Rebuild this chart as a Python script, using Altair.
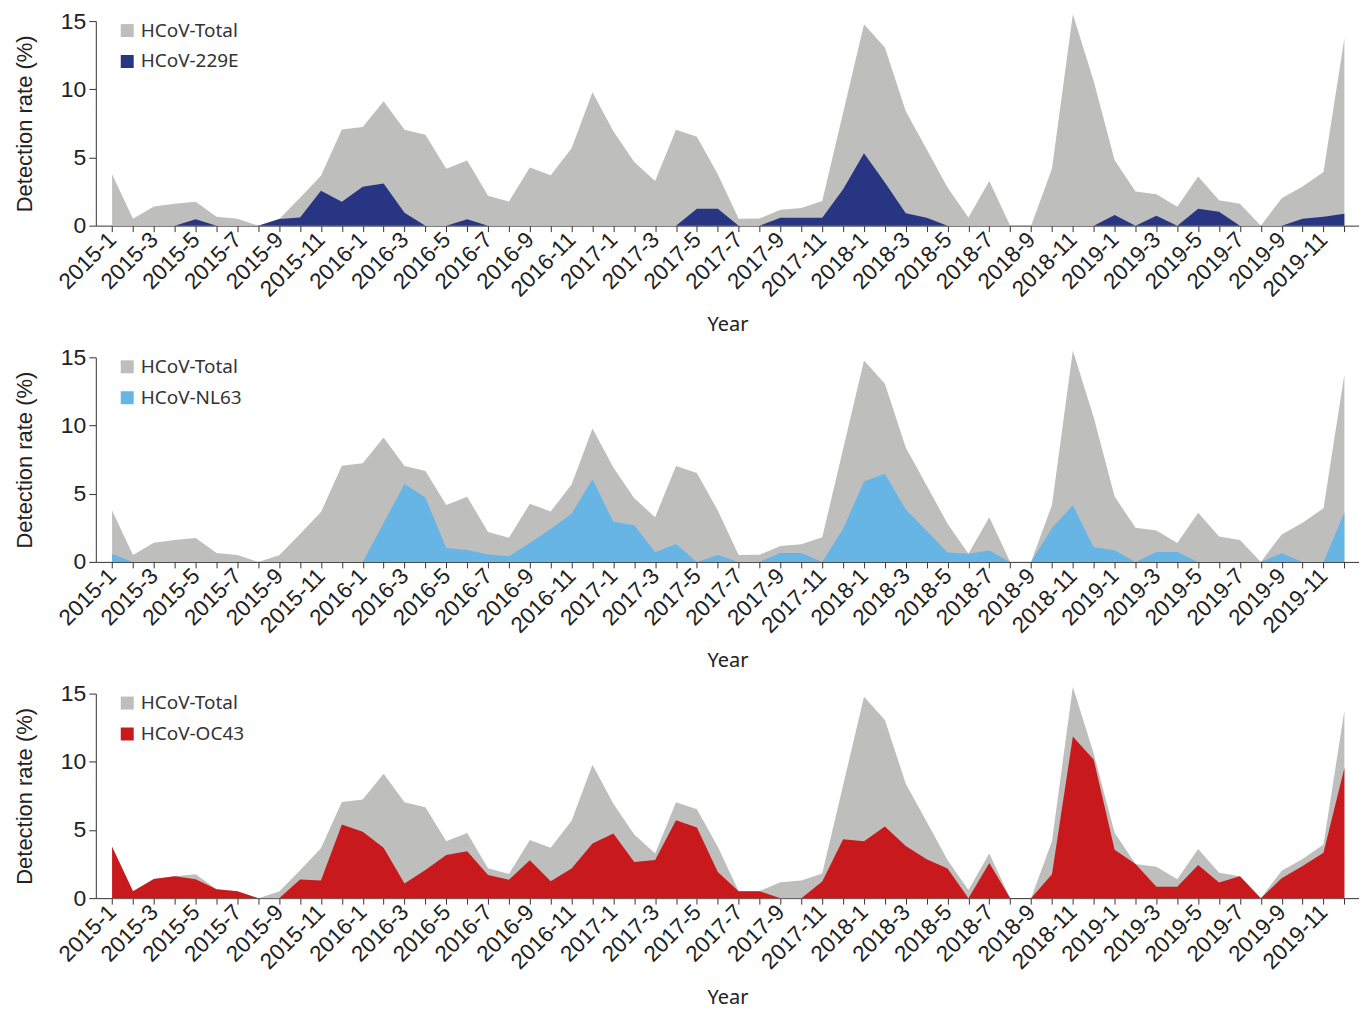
import altair as alt
import pandas as pd

# Month labels 2015-1 ... 2019-12
months = [f"{y}-{m}" for y in range(2015, 2020) for m in range(1, 13)]

total = [3.77, 0.50, 1.40, 1.60, 1.75, 0.66, 0.50, 0.00, 0.48, 2.04,
         3.65, 7.05, 7.23, 9.12, 7.03, 6.66, 4.18, 4.77, 2.19, 1.77,
         4.26, 3.70, 5.67, 9.78, 6.93, 4.67, 3.28, 7.03, 6.52, 3.77,
         0.50, 0.53, 1.17, 1.30, 1.80, 8.27, 14.77, 13.06, 8.39, 5.60,
         2.80, 0.60, 3.28, 0.00, 0.00, 4.18, 15.50, 10.58, 4.79, 2.50,
         2.30, 1.39, 3.60, 1.87, 1.60, 0.00, 2.01, 2.87, 3.94, 13.74]

hcov_229e = [0, 0, 0, 0, 0.46, 0, 0, 0, 0.48, 0.60,
             2.55, 1.75, 2.85, 3.09, 0.95, 0, 0, 0.46, 0, 0,
             0, 0, 0, 0, 0, 0, 0, 0, 1.24, 1.24,
             0, 0, 0.58, 0.58, 0.58, 2.67, 5.30, 3.16, 0.90, 0.58,
             0, 0, 0, 0, 0, 0, 0, 0, 0.78, 0,
             0.73, 0, 1.24, 1.02, 0, 0, 0, 0.51, 0.66, 0.88]

hcov_nl63 = [0.58, 0, 0, 0, 0, 0, 0, 0, 0, 0,
             0, 0, 0, 2.85, 5.72, 4.72, 1.02, 0.88, 0.54, 0.41,
             1.39, 2.41, 3.53, 6.06, 2.94, 2.68, 0.71, 1.31, 0, 0.51,
             0, 0, 0.66, 0.66, 0, 2.43, 5.89, 6.47, 3.85, 2.29,
             0.68, 0.60, 0.83, 0, 0, 2.48, 4.14, 1.07, 0.85, 0,
             0.73, 0.73, 0, 0, 0, 0, 0.63, 0, 0, 3.63]

hcov_oc43 = [3.77, 0.50, 1.40, 1.60, 1.39, 0.66, 0.50, 0, 0, 1.36,
             1.29, 5.40, 4.87, 3.70, 1.07, 2.07, 3.16, 3.43, 1.70, 1.34,
             2.77, 1.24, 2.17, 4.01, 4.74, 2.65, 2.80, 5.72, 5.18, 1.92,
             0.50, 0.51, 0, 0, 1.22, 4.31, 4.18, 5.26, 3.82, 2.85,
             2.17, 0, 2.58, 0, 0, 1.75, 11.85, 10.15, 3.55, 2.50,
             0.83, 0.83, 2.43, 1.14, 1.60, 0, 1.46, 2.36, 3.33, 9.54]

GRAY = "#BEBEBD"
AXIS_FONT = "Liberation Sans"
LEG_FONT = "Noto Sans"

label_expr = ("datum.value % 2 == 0 ? (2015 + floor(datum.value / 12)) + '-' + "
              "(datum.value % 12 + 1) : ''")


def panel(name, values, color):
    idx = list(range(len(months)))
    df_t = pd.DataFrame({"idx": idx, "month": months, "value": total, "series": "HCoV-Total"})
    df_s = pd.DataFrame({"idx": idx, "month": months, "value": values, "series": name})
    color_enc = alt.Color(
        "series:N",
        scale=alt.Scale(domain=["HCoV-Total", name], range=[GRAY, color]),
        legend=alt.Legend(
            title=None, orient="none", legendX=22, legendY=0,
            symbolType="square", symbolSize=169, symbolStrokeWidth=0,
            labelFont=LEG_FONT, labelFontSize=19, labelColor="#333333",
            rowPadding=11, labelOffset=4,
        ),
    )
    x = alt.X(
        "idx:Q",
        scale=alt.Scale(domain=[-0.78, 59.7], nice=False, zero=False),
        axis=alt.Axis(
            values=idx, labelExpr=label_expr, labelAngle=-45,
            labelAlign="right", labelBaseline="middle",
            labelFont=AXIS_FONT, labelFontSize=22.5, labelColor="#222222",
            labelPadding=4, tickSize=6, tickColor="#333333",
            domainColor="#333333", grid=False, labelOverlap=False,
            title="Year", titleFont=LEG_FONT, titleFontSize=20,
            titleFontWeight="normal", titleColor="#222222", titlePadding=14,
        ),
    )
    y = alt.Y(
        "value:Q",
        scale=alt.Scale(domain=[0, 15], nice=False),
        axis=alt.Axis(
            values=[0, 5, 10, 15], grid=False,
            labelFont=AXIS_FONT, labelFontSize=23, labelColor="#222222",
            tickSize=7, tickColor="#333333", domainColor="#333333",
            labelPadding=3,
            title="Detection rate (%)", titleFont=AXIS_FONT, titleFontSize=22,
            titleFontWeight="normal", titleColor="#222222", titlePadding=24,
        ),
    )
    a1 = alt.Chart(df_t).mark_area(opacity=1).encode(x=x, y=y, color=color_enc)
    a2 = alt.Chart(df_s).mark_area(opacity=1).encode(x=x, y=y, color=color_enc)
    return alt.layer(a1, a2).properties(width=1266, height=205)


chart = alt.vconcat(
    panel("HCoV-229E", hcov_229e, "#283583"),
    panel("HCoV-NL63", hcov_nl63, "#67B5E5"),
    panel("HCoV-OC43", hcov_oc43, "#C8191D"),
    spacing=132,
    bounds="flush",
).resolve_scale(color="independent").properties(
    padding={"left": 5, "top": 1, "right": 0, "bottom": 3}
).configure_view(stroke=None)

chart.save("out.html", embed_options={"renderer": "svg", "actions": False})
